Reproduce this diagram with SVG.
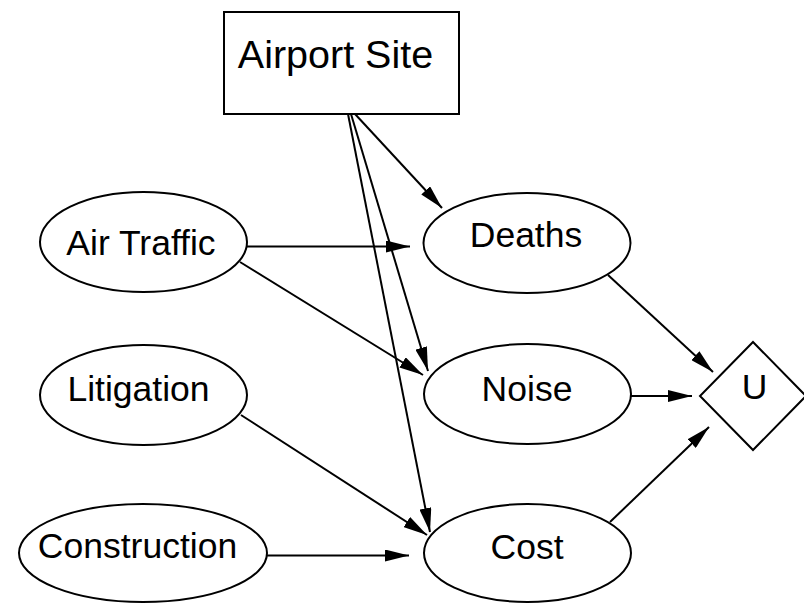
<svg xmlns="http://www.w3.org/2000/svg" width="804" height="603" viewBox="0 0 804 603">
<defs>
<style>
.n{fill:#fff;stroke:#000;stroke-width:2}
.t{font-family:"Liberation Sans",Arial,Helvetica,sans-serif;font-size:35.5px;fill:#000;text-anchor:middle}
.e{fill:none;stroke:#000;stroke-width:2;marker-end:url(#ah)}
</style>
<marker id="ah" markerUnits="userSpaceOnUse" markerWidth="24" markerHeight="12" refX="24" refY="6" orient="auto" viewBox="0 0 24 12">
<path d="M0,0 L24,6 L0,12 z" fill="#000"/>
</marker>
</defs>
<rect width="804" height="603" fill="#fff"/>
<g id="connectors">
<line class="e" x1="355" y1="114" x2="442" y2="208"/>
<line class="e" x1="351" y1="114" x2="428" y2="371"/>
<line class="e" x1="348" y1="114" x2="430" y2="532"/>
<line class="e" x1="247" y1="246.5" x2="410" y2="246.5"/>
<line class="e" x1="240" y1="262" x2="423" y2="375"/>
<line class="e" x1="241" y1="415" x2="427" y2="535"/>
<line class="e" x1="267" y1="555.5" x2="409" y2="555.5"/>
<line class="e" x1="608" y1="275" x2="713" y2="372"/>
<line class="e" x1="631" y1="396" x2="692" y2="396"/>
<line class="e" x1="610" y1="522" x2="709" y2="427"/>
</g>
<g id="airport-site">
<rect class="n" x="224" y="12" width="235" height="102"/>
<text class="t" x="335.5" y="68" style="font-size:39.5px">Airport Site</text>
</g>
<g id="air-traffic">
<ellipse class="n" cx="143.5" cy="242" rx="103.5" ry="50"/>
<text class="t" x="141" y="255">Air Traffic</text>
</g>
<g id="litigation">
<ellipse class="n" cx="143.5" cy="395" rx="103.5" ry="50"/>
<text class="t" x="138.5" y="401">Litigation</text>
</g>
<g id="construction">
<ellipse class="n" cx="143" cy="553" rx="124" ry="49"/>
<text class="t" x="137.5" y="558">Construction</text>
</g>
<g id="deaths">
<ellipse class="n" cx="527" cy="243" rx="103.5" ry="50"/>
<text class="t" x="526" y="247">Deaths</text>
</g>
<g id="noise">
<ellipse class="n" cx="527.5" cy="394" rx="103.5" ry="50"/>
<text class="t" x="527" y="401">Noise</text>
</g>
<g id="cost">
<ellipse class="n" cx="527.5" cy="553" rx="103.5" ry="49"/>
<text class="t" x="527" y="559">Cost</text>
</g>
<g id="u">
<polygon class="n" points="753,342 806,396 753,450 700,396"/>
<text class="t" x="754.5" y="399">U</text>
</g>
</svg>
